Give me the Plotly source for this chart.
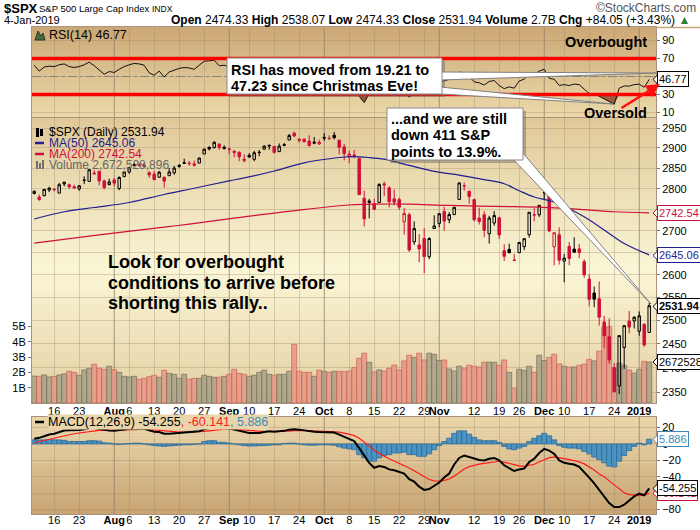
import math
import plotly.graph_objects as go

# ---------------- data ----------------
trading_days = [
    ("2018-07", [10, 11, 12, 13, 16, 17, 18, 19, 20, 23, 24, 25, 26, 27, 30, 31]),
    ("2018-08", [1, 2, 3, 6, 7, 8, 9, 10, 13, 14, 15, 16, 17, 20, 21, 22, 23, 24, 27, 28, 29, 30, 31]),
    ("2018-09", [4, 5, 6, 7, 10, 11, 12, 13, 14, 17, 18, 19, 20, 21, 24, 25, 26, 27, 28]),
    ("2018-10", [1, 2, 3, 4, 5, 8, 9, 10, 11, 12, 15, 16, 17, 18, 19, 22, 23, 24, 25, 26, 29, 30, 31]),
    ("2018-11", [1, 2, 5, 6, 7, 8, 9, 12, 13, 14, 15, 16, 19, 20, 21, 23, 26, 27, 28, 29, 30]),
    ("2018-12", [3, 4, 6, 7, 10, 11, 12, 13, 14, 17, 18, 19, 20, 21, 24, 26, 27, 28, 31]),
    ("2019-01", [2, 3, 4]),
]
dates = [f"{m}-{d:02d}" for m, ds in trading_days for d in ds]

opens = [2788.56, 2779.82, 2783.14, 2796.93, 2797.36, 2789.34, 2811.35, 2809.37, 2804.55, 2799.17,
         2820.68, 2817.73, 2835.49, 2842.35, 2819.00, 2809.73, 2821.17, 2800.48, 2829.62, 2840.29,
         2855.92, 2856.79, 2857.19, 2838.90, 2835.46, 2827.88, 2827.95, 2831.44, 2838.32, 2853.93,
         2861.51, 2860.99, 2860.29, 2862.35, 2884.69, 2901.45, 2900.62, 2908.94, 2898.37, 2896.96,
         2891.59, 2888.64, 2868.26, 2881.39, 2871.57, 2888.29, 2896.85, 2906.38, 2903.83, 2890.74,
         2906.60, 2919.73, 2936.76, 2921.83, 2921.75, 2916.98, 2911.65, 2910.03, 2926.29, 2923.80,
         2931.69, 2919.35, 2902.54, 2877.53, 2882.51, 2873.90, 2776.87, 2770.54, 2763.83, 2767.05,
         2811.67, 2802.00, 2775.66, 2773.94, 2721.03, 2737.87, 2674.88, 2667.86, 2682.65, 2640.68,
         2705.60, 2717.58, 2745.45, 2726.37, 2738.40, 2774.13, 2806.38, 2794.10, 2773.93, 2730.05,
         2737.90, 2693.52, 2718.54, 2730.74, 2654.60, 2657.74, 2633.36, 2649.97, 2663.75, 2691.45,
         2736.97, 2737.76, 2790.50, 2782.43, 2663.51, 2691.26, 2630.86, 2664.44, 2658.23, 2658.70,
         2629.68, 2590.75, 2559.90, 2547.05, 2496.77, 2465.38, 2400.56, 2363.12, 2442.50, 2498.77,
         2498.94, 2476.96, 2491.92, 2474.33]
highs = [2795.58, 2785.91, 2799.22, 2804.53, 2801.19, 2814.19, 2816.76, 2812.05, 2809.70, 2808.61,
         2829.99, 2848.03, 2845.57, 2843.17, 2821.74, 2824.46, 2825.83, 2829.91, 2840.38, 2853.29,
         2863.43, 2862.44, 2862.48, 2842.20, 2843.40, 2843.11, 2827.95, 2850.49, 2855.63, 2859.76,
         2873.23, 2867.54, 2868.78, 2876.16, 2898.25, 2903.77, 2916.50, 2912.46, 2906.32, 2900.18,
         2894.21, 2892.05, 2883.81, 2886.93, 2892.52, 2894.65, 2906.76, 2908.30, 2904.65, 2911.17,
         2912.36, 2934.80, 2940.91, 2923.79, 2923.95, 2931.15, 2927.22, 2920.53, 2937.06, 2931.42,
         2939.86, 2919.78, 2909.64, 2893.53, 2894.83, 2874.02, 2795.14, 2775.77, 2775.99, 2813.46,
         2816.94, 2806.04, 2797.77, 2778.94, 2753.59, 2742.59, 2722.70, 2692.38, 2706.85, 2685.43,
         2736.69, 2741.67, 2756.55, 2744.27, 2756.82, 2815.15, 2814.75, 2794.10, 2775.99, 2754.60,
         2746.80, 2735.38, 2746.75, 2733.16, 2669.44, 2670.73, 2647.55, 2674.35, 2682.53, 2744.00,
         2753.75, 2760.88, 2800.18, 2785.93, 2696.15, 2708.54, 2647.51, 2674.35, 2685.44, 2670.19,
         2635.07, 2601.13, 2573.99, 2585.29, 2509.63, 2504.41, 2410.34, 2467.76, 2489.10, 2520.27,
         2509.24, 2519.49, 2493.14, 2538.07]
lows = [2786.24, 2770.77, 2781.53, 2791.69, 2793.39, 2789.24, 2805.89, 2799.77, 2800.01, 2795.14,
        2811.12, 2817.73, 2835.26, 2808.34, 2798.11, 2808.06, 2805.85, 2796.34, 2827.37, 2835.98,
        2855.92, 2853.09, 2851.98, 2825.81, 2819.88, 2826.58, 2802.49, 2831.44, 2833.73, 2850.62,
        2861.32, 2856.05, 2854.03, 2862.35, 2884.69, 2893.50, 2898.40, 2895.22, 2895.77, 2885.13,
        2876.92, 2867.29, 2864.12, 2875.94, 2866.78, 2879.20, 2896.39, 2895.77, 2886.16, 2890.43,
        2903.82, 2919.73, 2927.11, 2912.63, 2913.70, 2903.28, 2909.27, 2907.50, 2917.91, 2919.37,
        2921.36, 2883.92, 2869.29, 2862.07, 2874.27, 2784.86, 2710.51, 2729.44, 2749.03, 2766.91,
        2781.81, 2755.18, 2760.27, 2749.22, 2691.43, 2651.89, 2667.84, 2628.16, 2603.54, 2635.34,
        2705.60, 2708.85, 2700.44, 2717.94, 2737.08, 2774.13, 2794.99, 2764.24, 2722.00, 2714.98,
        2685.75, 2670.75, 2712.16, 2681.09, 2631.52, 2649.82, 2631.09, 2649.97, 2655.89, 2684.38,
        2722.94, 2732.76, 2773.38, 2697.18, 2621.53, 2623.14, 2583.23, 2621.30, 2650.26, 2637.27,
        2593.84, 2530.54, 2528.71, 2488.96, 2441.18, 2408.55, 2351.10, 2346.58, 2397.94, 2472.89,
        2482.82, 2467.47, 2443.96, 2474.33]
closes = [2793.84, 2774.02, 2798.29, 2801.31, 2798.43, 2809.55, 2815.62, 2804.49, 2801.83, 2806.98,
          2820.40, 2846.07, 2837.44, 2818.82, 2802.60, 2816.29, 2813.36, 2827.22, 2840.35, 2850.40,
          2858.45, 2857.70, 2853.58, 2833.28, 2821.93, 2839.96, 2818.37, 2840.69, 2850.13, 2857.05,
          2862.96, 2861.82, 2856.98, 2874.69, 2896.74, 2897.52, 2914.04, 2901.13, 2901.52, 2896.72,
          2888.60, 2878.05, 2871.68, 2877.13, 2887.89, 2888.92, 2904.18, 2904.98, 2888.80, 2904.31,
          2907.95, 2930.75, 2929.67, 2919.37, 2915.56, 2905.97, 2914.00, 2913.98, 2924.59, 2923.43,
          2925.51, 2901.61, 2885.57, 2884.43, 2880.34, 2785.68, 2728.37, 2767.13, 2750.79, 2809.92,
          2809.21, 2768.78, 2767.78, 2755.88, 2740.69, 2656.10, 2705.57, 2658.69, 2641.25, 2682.63,
          2711.74, 2740.37, 2723.06, 2738.31, 2755.45, 2813.89, 2806.83, 2781.01, 2726.22, 2722.18,
          2701.58, 2730.20, 2736.27, 2690.73, 2641.89, 2649.93, 2632.56, 2673.45, 2682.17, 2743.79,
          2737.80, 2760.17, 2790.37, 2700.06, 2695.95, 2633.08, 2637.72, 2636.78, 2651.07, 2650.54,
          2599.95, 2545.94, 2546.16, 2506.96, 2467.42, 2416.62, 2351.10, 2467.70, 2488.83, 2485.74,
          2506.85, 2510.03, 2447.89, 2531.94]
prev_close = 2784.17

volume_b = [1.76, 1.74, 1.83, 1.70, 1.74, 1.83, 1.90, 2.07, 2.00, 1.81,
            2.16, 2.27, 2.53, 2.27, 2.20, 2.40, 2.16, 2.00, 1.74, 1.70,
            1.74, 1.55, 1.61, 1.72, 1.81, 1.68, 2.14, 1.94, 1.87, 1.61,
            1.87, 1.55, 1.61, 1.61, 1.81, 1.74, 1.68, 1.68, 1.74, 1.87,
            2.20, 1.94, 1.87, 1.74, 1.81, 2.00, 2.14, 1.87, 1.81, 1.87,
            1.87, 2.07, 3.83, 2.07, 2.00, 2.00, 1.74, 2.14, 2.07, 2.00,
            2.07, 2.07, 2.05, 2.09, 2.31, 2.92, 3.25, 2.66, 2.03, 2.16,
            2.09, 2.27, 2.48, 2.16, 2.75, 3.12, 2.98, 3.25, 2.81, 3.25,
            3.18, 2.77, 2.81, 2.22, 2.09, 2.40, 2.27, 2.46, 2.40, 2.35,
            2.66, 2.66, 2.66, 2.46, 2.81, 2.00, 0.98, 2.20, 2.14, 2.40,
            2.00, 3.12, 2.77, 2.98, 3.18, 2.55, 2.40, 2.35, 2.35, 2.46,
            2.53, 2.85, 2.75, 3.38, 4.95, 4.99, 2.30, 2.60, 2.45, 2.15,
            1.95, 2.20, 2.72, 2.67]

ma50_at = [0, 6, 12, 19, 26, 32, 39, 42, 48, 54, 59, 63, 67, 70, 73, 80, 85, 90, 94, 97, 100, 104, 110, 114, 118, 123]
ma50 = [2728, 2745, 2755, 2767, 2786, 2801, 2819, 2826, 2843, 2863, 2873, 2878, 2876, 2872, 2863,
        2842, 2833, 2822, 2812, 2795, 2780, 2768, 2733, 2702, 2671, 2645.06]
ma200_at = [0, 13, 26, 31, 40, 53, 63, 68, 75, 83, 96, 101, 110, 116, 123]
ma200 = [2672, 2691, 2709, 2716, 2730, 2749, 2761, 2763, 2763, 2760, 2757, 2756, 2750, 2745, 2742.54]

rsi14 = [62.5, 56, 60.5, 61.5, 61, 63, 64, 61, 60, 61,
         63, 66, 62, 57, 52.5, 55.5, 54.5, 58, 61, 63,
         64.5, 64, 62.5, 54, 51.5, 56, 49.5, 55, 57, 59,
         60, 59.5, 58, 63, 67, 67.5, 68, 62, 62.5, 61,
         58, 54, 52, 53.5, 57, 57.5, 62, 62.5, 56, 61,
         62, 67, 66, 62, 60, 56, 59, 59, 62, 61,
         62, 51, 46, 46, 45, 28, 21, 31, 31, 41,
         41, 35, 35, 33, 32, 27, 34, 30, 31, 36,
         40, 45, 45, 47, 50, 55, 53.5, 50, 44, 43,
         40.5, 44.5, 45.5, 40, 36.5, 38.5, 37, 45, 47, 53,
         52, 56, 58, 48, 47, 40, 41, 40, 41.5, 41,
         36, 31, 31, 28, 25, 22, 19.21, 37, 39.5, 39.3,
         41, 41.5, 38, 46.77]

macd_line = [6.5, 7.5, 9.5, 11.5, 12.5, 14.5, 16.5, 16.8, 16.8, 17,
             17.8, 19.5, 19.5, 18.5, 17, 16.5, 16, 16.5, 17.5, 18.5,
             19, 19, 18.5, 16.5, 15, 14.5, 12.5, 12.5, 13, 13.5,
             14, 14.5, 14.5, 15.5, 18, 19.5, 21, 20.5, 20, 19,
             17.5, 16, 14.5, 13.5, 13.5, 13.5, 14.5, 15.5, 15, 15.5,
             16, 17.5, 18, 17.5, 16.5, 15.5, 15, 14.5, 14.5, 14.5,
             14, 11.5, 8.5, 6, 3.5, -5, -14, -23, -29, -27,
             -28, -31, -32, -34, -36, -43, -46, -52, -56, -55,
             -51, -47, -41, -36, -25, -17, -14, -16, -18, -19.5,
             -20, -18, -17, -20, -26, -30, -33, -31, -30, -22,
             -18, -11, -6, -8, -12, -20, -23, -24, -25, -28,
             -34, -41, -48, -56, -65, -72, -77, -77, -74, -69,
             -64, -60.5, -62.5, -54.255]
macd_signal = [1.5, 2.7, 4.1, 5.6, 7, 8.5, 10, 11.4, 12.5, 13.4,
               14.3, 15.3, 16.1, 16.6, 16.7, 16.7, 16.6, 16.6, 16.8, 17.1,
               17.5, 17.8, 18, 17.7, 17.2, 16.6, 15.8, 15.2, 14.8, 14.5,
               14.4, 14.4, 14.4, 14.6, 15.3, 16.1, 17.1, 17.8, 18.2, 18.4,
               18.2, 17.8, 17.2, 16.5, 15.9, 15.4, 15.2, 15.2, 15.2, 15.2,
               15.3, 15.7, 16.2, 16.4, 16.4, 16.2, 16, 15.7, 15.5, 15.3,
               15.1, 14.4, 13.2, 11.8, 10.1, 7.1, 2.9, -2.3, -7.6, -11.5,
               -14.8, -18, -20.8, -23.4, -25.9, -29.3, -32.6, -36.5, -40.4, -43.3,
               -44.9, -45.3, -44.4, -42.7, -39.2, -34.7, -30.6, -27.7, -25.8, -24.5,
               -23.6, -22.5, -21.4, -21.1, -22.1, -23.7, -25.6, -26.7, -27.3, -26.3,
               -24.7, -22, -18.8, -16.6, -15.7, -16.6, -17.9, -19.1, -20.3, -21.8,
               -24.3, -27.7, -31.8, -36.6, -40, -45, -50, -55.5, -59.5, -61.7,
               -62.6, -62.8, -62.7, -60.141]
macd_hist = [5, 5, 5, 5.5, 5, 5, 4.5, 3, 3, 3,
             3, 4, 4, 3.5, 1.5, 1, 0, -0.5, 0, 0.5,
             1, 1, 0, -1, -2, -2.5, -3, -2.5, -2, -1.5,
             -1, -1, -0.5, 0, 3, 4, 4, 2, 2, 1,
             0, -1, -2, -2.5, -2.5, -2, -2, -1.5, -1, -1,
             0.5, 1, 1, 0, -1, -1.5, -1.5, -1, -1, -1,
             -1.5, -3.5, -5, -6, -7, -13, -17, -21, -21, -17,
             -14, -13, -11, -11, -10, -13, -13, -15, -15, -12,
             -7, -2, 3, 7, 13, 16, 16, 12, 8, 5,
             4, 4, 4, 2, -3, -6, -7, -5, -3, 3,
             7, 10, 13, 10, 5, -2, -4, -5, -5, -6,
             -9, -12, -16, -19, -23, -27, -28, -21, -14, -8,
             -3, 1, -1, 5.886]

tick_at = [4, 9, 16, 19, 24, 29, 34, 39, 43, 48, 53, 58, 63, 68, 73, 78, 81, 88, 93, 97, 102, 106, 111, 116, 121]
tick_text = ["16", "23", "<b>Aug</b>", "6", "13", "20", "27", "<b>Sep</b>", "10", "17", "24", "<b>Oct</b>",
             "8", "15", "22", "29", "<b>Nov</b>", "12", "19", "26", "<b>Dec</b>", "10", "17", "24", "<b>2019</b>"]
month_at = [16, 39, 58, 81, 102, 121]

# ---------------- geometry / styles ----------------
n = len(closes)
idx = list(range(n))
W, H = 700, 530
L, R, T, B = 32, 656, 27, 514


def px(x):
    return (x - L) / (R - L)


def py(y):
    return (B - y) / (B - T)


macd_dom = [0, py(417)]
price_dom = [py(403), py(118)]
rsi_dom = [py(117), 1.0]

FONT = "Liberation Sans, Arial, Helvetica, sans-serif"
RED = "#d0103a"
NAVY = "#1f1f8f"
BLUE = "#3a8ac0"
GRID = "rgba(150,130,100,0.32)"
BORDER = "#a8927e"

prevs = [prev_close] + closes[:-1]
up_day = [c >= p for c, p in zip(closes, prevs)]

traces = []
traces.append(go.Bar(
    x=idx, y=volume_b, xaxis="x2", yaxis="y2", width=1.0,
    marker=dict(color=["rgba(168,160,134,0.85)" if u else "rgba(228,152,132,0.85)" for u in up_day],
                line=dict(color=["rgba(120,112,95,0.9)" if u else "rgba(208,98,88,0.9)" for u in up_day], width=0.8)),
    hoverinfo="skip", showlegend=False))
traces.append(go.Scatter(x=ma200_at, y=ma200, xaxis="x2", yaxis="y3", mode="lines",
                         line=dict(color=RED, width=1.2, shape="spline"), hoverinfo="skip", showlegend=False))
traces.append(go.Scatter(x=ma50_at, y=ma50, xaxis="x2", yaxis="y3", mode="lines",
                         line=dict(color=NAVY, width=1.2, shape="spline"), hoverinfo="skip", showlegend=False))
for flag, col in [(True, "#000000"), (False, RED)]:
    sel = [i for i in idx if up_day[i] == flag]
    traces.append(go.Candlestick(
        x=sel, open=[opens[i] for i in sel], high=[highs[i] for i in sel],
        low=[lows[i] for i in sel], close=[closes[i] for i in sel],
        xaxis="x2", yaxis="y3", whiskerwidth=0,
        increasing=dict(line=dict(color=col, width=1), fillcolor="rgba(0,0,0,0)"),
        decreasing=dict(line=dict(color=col, width=1), fillcolor=col),
        hoverinfo="skip", showlegend=False))
traces.append(go.Scatter(x=idx, y=[30] * n, xaxis="x3", yaxis="y4", mode="lines",
                         line=dict(width=0, color="rgba(0,0,0,0)"), hoverinfo="skip", showlegend=False))
traces.append(go.Scatter(x=idx, y=[min(v, 30) for v in rsi14], xaxis="x3", yaxis="y4", mode="lines",
                         line=dict(width=0, color="rgba(0,0,0,0)"), fill="tonexty", fillcolor="#9a5a3c",
                         hoverinfo="skip", showlegend=False))
traces.append(go.Scatter(x=idx, y=rsi14, xaxis="x3", yaxis="y4", mode="lines",
                         line=dict(color="#111111", width=1), hoverinfo="skip", showlegend=False))
traces.append(go.Bar(x=idx, y=macd_hist, xaxis="x", yaxis="y", width=1.0,
                     marker=dict(color="#4a93c2", line=dict(color="#2d6b96", width=0.8)),
                     hoverinfo="skip", showlegend=False))
traces.append(go.Scatter(x=idx, y=macd_signal, xaxis="x", yaxis="y", mode="lines",
                         line=dict(color="#ff1a1a", width=1.2), hoverinfo="skip", showlegend=False))
traces.append(go.Scatter(x=idx, y=macd_line, xaxis="x", yaxis="y", mode="lines",
                         line=dict(color="#000000", width=2), hoverinfo="skip", showlegend=False))

fig = go.Figure(traces)

# ---------------- shapes ----------------
shapes = []


def lerp(c1, c2, t):
    return tuple(c1[i] + (c2[i] - c1[i]) * t for i in range(3))


def grad(stops, y):
    for (y0, c0), (y1, c1) in zip(stops, stops[1:]):
        if y0 <= y <= y1:
            return lerp(c0, c1, (y - y0) / (y1 - y0))
    return stops[-1][1]


panels = [
    [(27, (204, 168, 118)), (117, (236, 217, 170))],
    [(118, (224, 200, 152)), (270, (250, 246, 214)), (403, (228, 206, 160))],
    [(417, (234, 214, 170)), (514, (200, 164, 114))],
]
for stops in panels:
    ytop, ybot = stops[0][0], stops[-1][0]
    nb = int((ybot - ytop) / 3)
    h = (ybot - ytop) / nb
    for k in range(nb):
        y0 = ytop + k * h
        y1 = y0 + h
        c = grad(stops, (y0 + y1) / 2)
        shapes.append(dict(type="rect", xref="paper", yref="paper", x0=0, x1=1,
                           y0=py(y1 + 0.4), y1=py(y0), layer="below",
                           fillcolor="rgb(%d,%d,%d)" % tuple(round(v) for v in c), line=dict(width=0)))

shapes.append(dict(type="line", xref="paper", yref="paper", x0=px(32), x1=px(700), y0=py(27.5), y1=py(27.5),
                   line=dict(color="#c8a878", width=1.5)))

for m in month_at:
    for xr, yr in [("x", "y domain"), ("x2", "y2 domain"), ("x3", "y4 domain")]:
        shapes.append(dict(type="line", xref=xr, yref=yr, x0=m, x1=m, y0=0, y1=1, layer="below",
                           line=dict(color="rgba(130,118,108,0.55)", width=1)))

shapes.append(dict(type="line", xref="x3 domain", yref="y4", x0=0, x1=1, y0=50, y1=50, layer="below",
                   line=dict(color="#7c8494", width=1, dash="dashdot")))
for lvl in (70, 30):
    shapes.append(dict(type="line", xref="x3 domain", yref="y4", x0=0, x1=1, y0=lvl, y1=lvl, layer="above",
                       line=dict(color="#ff0000", width=3.5)))


def path(pts):
    return "M " + " L ".join("%.5f,%.5f" % (px(a), py(b)) for a, b in pts) + " Z"


def rect(x0, y0, x1, y1, fill, line_c=None, lw=0):
    shapes.append(dict(type="rect", xref="paper", yref="paper", x0=px(x0), x1=px(x1), y0=py(y1), y1=py(y0),
                       fillcolor=fill, line=dict(color=line_c or fill, width=lw), layer="above"))


rect(230, 61, 445, 97, "rgba(110,100,90,0.45)")
rect(390, 111, 526, 163, "rgba(110,100,90,0.45)")
for pts in [[(440, 72), (656, 73), (440, 80)],
            [(440, 87), (613, 104), (440, 94)],
            [(512, 158), (651, 304), (522, 152)]]:
    shapes.append(dict(type="path", xref="paper", yref="paper", path=path(pts), layer="above",
                       fillcolor="white", line=dict(color="#808080", width=1)))
rect(227, 58, 442, 94, "white", "#8a8a8a", 1)
rect(387, 108, 523, 160, "white", "#8a8a8a", 1)

for yy, cc in [(143, NAVY), (154, RED), (422, "#000")]:
    shapes.append(dict(type="line", xref="paper", yref="paper", x0=px(35), x1=px(44), y0=py(yy), y1=py(yy),
                       line=dict(color=cc, width=2.5), layer="above"))
shapes.append(dict(type="path", xref="paper", yref="paper", path=path([(35, 40), (38, 31), (41, 36), (43, 33), (45, 40)]),
                   fillcolor="#4a6a3a", line=dict(color="#2a3a2a", width=1), layer="above"))
for a, b, c in [(36, 161, 169), (39, 163, 169), (42, 160, 169)]:
    rect(a, b, a + 2, c, "#707070")
for a, b, c in [(36, 128, 137), (40, 129, 136)]:
    rect(a, b, a + 3, c, "#000000")

for yy, cc in [(79.4, "#000"), (213, RED), (255.5, NAVY), (306.5, "#000"), (362, "#000"),
               (439.5, BLUE), (493.3, RED), (488.5, "#000")]:
    shapes.append(dict(type="path", xref="paper", yref="paper", layer="above",
                       path=path([(659, yy - 6), (653, yy), (659, yy + 6)]),
                       fillcolor="white", line=dict(color=cc, width=1)))

fig.update_layout(shapes=shapes)

# ---------------- annotations ----------------
ann = []


def txt(x, y, text, size, color="#000", family=FONT, xanchor="left", bg=None):
    d = dict(xref="paper", yref="paper", x=px(x), y=py(y), text=text, showarrow=False,
             xanchor=xanchor, yanchor="middle", font=dict(size=size, color=color, family=family))
    if bg:
        d["bgcolor"] = bg
        d["borderpad"] = 0
    ann.append(d)


txt(2, 8, "<b>$SPX</b>", 13)
txt(37, 8.5, "S&P 500 Large Cap Index", 9.5)
txt(150, 9, "INDX", 8.5)
txt(698, 8, "©StockCharts.com", 12, color="#555", xanchor="right")
txt(2, 20, "4-Jan-2019", 11)
txt(692, 20, "<b>Open</b> 2474.33 <b>High</b> 2538.07 <b>Low</b> 2474.33 <b>Close</b> 2531.94 "
             "<b>Volume</b> 2.7B <b>Chg</b> +84.05 (+3.43%) <span style='color:#2e7d32'>▲</span>",
    12, xanchor="right")

txt(47, 35, "RSI(14) 46.77", 12.5)
txt(47, 132, "$SPX (Daily) 2531.94", 12)
txt(47, 143, "MA(50) 2645.06", 12, color=NAVY)
txt(47, 154, "MA(200) 2742.54", 12, color=RED)
txt(47, 165, "Volume 2,672,528,896", 12, color="#666666")
txt(47, 422, "MACD(12,26,9) -54.255<span style='color:#ff1a1a'>, -60.141</span>"
             "<span style='color:#3a8ac0'>, 5.886</span>", 12.5, bg="rgb(233,213,169)")

for s, y in [("RSI has moved from 19.21 to", 70), ("47.23 since Christmas Eve!", 86.5)]:
    txt(229, y, "<b>%s</b>" % s, 14.5)
for s, y in [("...and we are still", 118.5), ("down 411 S&P", 135), ("points to 13.9%.", 151.5)]:
    txt(389, y, "<b>%s</b>" % s, 14.5)
for s, y in [("Look for overbought", 262), ("conditions to arrive before", 282.5), ("shorting this rally..", 303)]:
    txt(106, y, "<b>%s</b>" % s, 18)
txt(649, 42, "<b>Overbought</b>", 14.5, xanchor="right")
txt(649, 113, "<b>Oversold</b>", 14.5, xanchor="right")


def vbox(yref, val, text, col, border, bold=False, log=False):
    ann.append(dict(xref="paper", x=px(657), yref=yref, y=math.log10(val) if log else val,
                    xanchor="left", yanchor="middle",
                    text=("<b>%s</b>" % text) if bold else text, showarrow=False,
                    font=dict(size=11, color=col, family=FONT),
                    bgcolor="white", bordercolor=border, borderwidth=1, borderpad=1))


vbox("y4", rsi14[-1], "46.77", "#000", "#000")
vbox("y3", ma200[-1], "2742.54", RED, RED, log=True)
vbox("y3", ma50[-1], "2645.06", NAVY, NAVY, log=True)
vbox("y3", closes[-1], "2531.94", "#000", "#000", bold=True, log=True)
vbox("y2", volume_b[-1], "2672528896", "#000", "#000")
vbox("y", macd_hist[-1], "5.886", BLUE, BLUE)
vbox("y", macd_signal[-1], "-60.141", RED, RED)
vbox("y", macd_line[-1], "-54.255", "#000", "#000")

ann.append(dict(xref="paper", yref="paper", x=px(660), y=py(84), ax=-40, ay=25, axref="pixel", ayref="pixel",
                text="", showarrow=True, arrowhead=2, arrowsize=1.1, arrowwidth=2.5, arrowcolor="#ff1010"))

fig.update_layout(annotations=ann)

# ---------------- axes ----------------
common_x = dict(range=[-0.44, 124.36], tickvals=tick_at, ticktext=tick_text, showgrid=True, gridcolor=GRID,
                gridwidth=1, zeroline=False, showline=True, linecolor=BORDER, linewidth=1, mirror=True,
                ticks="", tickangle=0, tickfont=dict(size=11, color="black", family=FONT), automargin=False,
                fixedrange=True, rangeslider=dict(visible=False))
ytick = dict(ticks="outside", ticklen=3, tickcolor="#777", tickfont=dict(size=11, color="black", family=FONT),
             automargin=False, fixedrange=True, zeroline=False, showline=True, linecolor=BORDER,
             linewidth=1, mirror=True, gridcolor=GRID, gridwidth=1)

fig.update_layout(
    template="none",
    width=W, height=H,
    margin=dict(l=L, r=W - R, t=T, b=H - B, pad=0),
    paper_bgcolor="white", plot_bgcolor="rgba(0,0,0,0)",
    font=dict(family=FONT, size=11, color="black"),
    showlegend=False, hovermode=False, barmode="overlay",
    xaxis=dict(common_x, anchor="y", domain=[0, 1], ticklabelstandoff=-4),
    xaxis2=dict(common_x, anchor="y2", matches="x", showticklabels=True, ticklabelstandoff=-2),
    xaxis3=dict(common_x, anchor="y4", matches="x", showticklabels=False),
    yaxis=dict(ytick, domain=macd_dom, range=[-85.4, 32.9], side="right",
               tickvals=[20, 0, -20, -40, -60, -80], showgrid=True, anchor="x"),
    yaxis2=dict(ytick, domain=price_dom, range=[0, 18.6], side="left", tickvals=[1, 2, 3, 4, 5],
                ticktext=["1B", "2B", "3B", "4B", "5B"], showgrid=False, anchor="x2"),
    yaxis3=dict(ytick, overlaying="y2", anchor="x2", side="right", type="log",
                range=[3.36711, 3.47356], tickvals=list(range(2350, 2951, 50)), showgrid=True,
                showline=False, mirror=False),
    yaxis4=dict(ytick, domain=rsi_dom, range=[5, 105], side="right", tickvals=[10, 30, 50, 70, 90],
                showgrid=True, anchor="x3"),
)

fig.write_html("out.html", config={"displayModeBar": False, "staticPlot": True},
               post_script="document.body.style.margin='0';document.body.style.padding='0';")
